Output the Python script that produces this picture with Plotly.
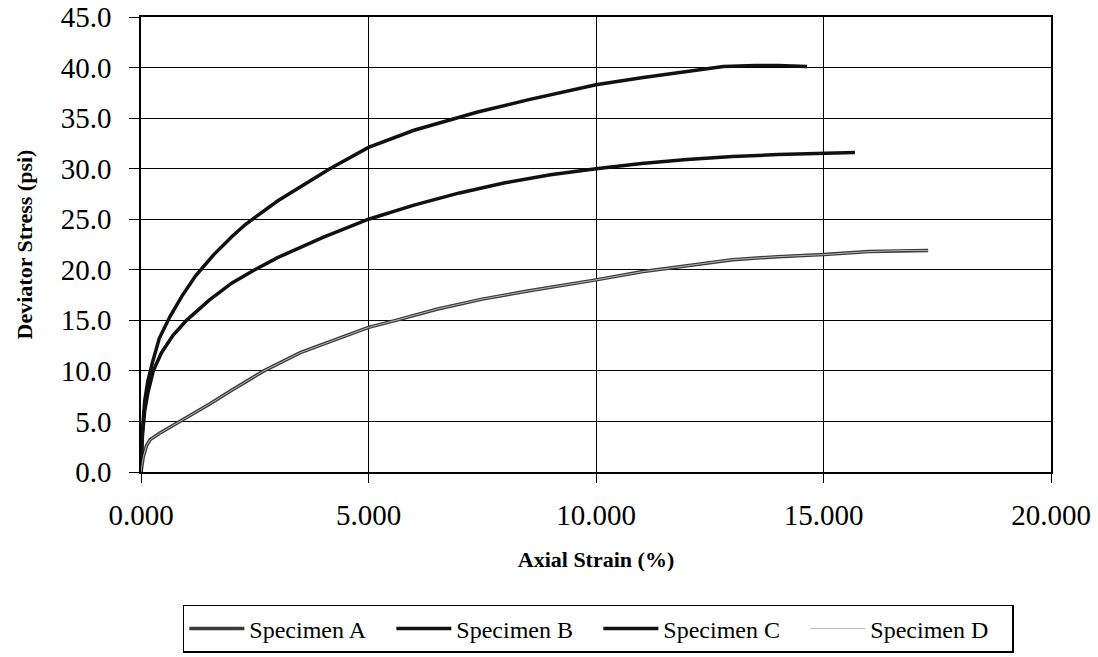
import plotly.graph_objects as go

# Axial strain (%) and deviator stress (psi) for each specimen
strain_a = [0, 0.05, 0.12, 0.2, 0.4, 0.86, 1.5, 2.0, 2.7, 3.5, 4.2, 5.0, 5.6, 6.5, 7.5, 8.5,
            10.0, 11.0, 12.0, 13.0, 14.0, 15.0, 16.0, 16.7, 17.3]
stress_a = [0, 1.5, 2.6, 3.2, 3.8, 5.0, 6.7, 8.1, 10.0, 11.8, 13.0, 14.3, 15.0, 16.1, 17.1, 17.9,
            19.0, 19.8, 20.4, 21.0, 21.3, 21.5, 21.8, 21.9, 21.9]

strain_b = [0, 0.03, 0.08, 0.15, 0.25, 0.4, 0.64, 0.9, 1.2, 1.6, 2.0, 2.3, 3.0, 3.5, 4.15, 5.0,
            6.0, 7.4, 8.5, 10.0, 11.0, 12.0, 12.8, 13.5, 14.0, 14.64]
stress_b = [0, 4.0, 7.0, 9.0, 10.8, 13.2, 15.4, 17.4, 19.4, 21.5, 23.3, 24.5, 26.8, 28.2, 30.0, 32.1,
            33.8, 35.6, 36.8, 38.3, 39.0, 39.6, 40.1, 40.2, 40.2, 40.1]

strain_c = [0, 0.03, 0.08, 0.15, 0.27, 0.45, 0.7, 1.0, 1.5, 2.0, 2.5, 3.0, 4.0, 5.0, 6.0, 7.0,
            8.0, 9.0, 10.0, 11.0, 12.0, 13.0, 14.0, 15.0, 15.69]
stress_c = [0, 3.5, 6.0, 7.8, 10.0, 11.8, 13.5, 15.0, 17.0, 18.7, 20.0, 21.2, 23.2, 25.0, 26.4, 27.6,
            28.6, 29.4, 30.0, 30.5, 30.9, 31.2, 31.4, 31.5, 31.6]

strain_d = [0, 0.05, 0.12, 0.2, 0.4, 0.86, 1.5, 2.0, 2.7, 3.5, 4.2, 5.0, 5.6, 6.5, 7.5, 8.5,
            10.0, 11.0, 12.0, 13.0, 14.0, 15.0, 16.0, 16.7, 17.3]
stress_d = [0, 1.5, 2.6, 3.2, 3.8, 5.0, 6.7, 8.1, 10.0, 11.8, 13.0, 14.3, 15.0, 16.1, 17.1, 17.9,
            19.0, 19.8, 20.4, 21.0, 21.3, 21.5, 21.8, 21.9, 21.9]

x_ticks = [0, 5, 10, 15, 20]
y_ticks = [0, 5, 10, 15, 20, 25, 30, 35, 40, 45]

serif = "Liberation Serif, Times New Roman, serif"

fig = go.Figure()
fig.add_trace(go.Scatter(x=strain_a, y=stress_a, mode="lines", name="Specimen A",
                         line=dict(color="#3a3a3a", width=3.5)))
fig.add_trace(go.Scatter(x=strain_b, y=stress_b, mode="lines", name="Specimen B",
                         line=dict(color="#111111", width=3.5)))
fig.add_trace(go.Scatter(x=strain_c, y=stress_c, mode="lines", name="Specimen C",
                         line=dict(color="#111111", width=3.5)))
fig.add_trace(go.Scatter(x=strain_d, y=stress_d, mode="lines", name="Specimen D",
                         line=dict(color="#b8b8b8", width=1)))

fig.update_layout(
    width=1098, height=657,
    margin=dict(l=141, r=47, t=17, b=185, autoexpand=False),
    paper_bgcolor="white", plot_bgcolor="white",
    font=dict(family=serif, color="black"),
    showlegend=True,
    legend=dict(orientation="h", x=0.046, xanchor="left", y=-0.292, yanchor="top",
                bordercolor="black", borderwidth=1.5, bgcolor="white",
                font=dict(family=serif, size=24, color="black"),
                itemwidth=55, tracegroupgap=0, entrywidth=137),
    xaxis=dict(range=[0, 20], tickvals=x_ticks, tickformat=".3f", automargin=False,
               showgrid=True, gridcolor="black", gridwidth=1,
               showline=True, linecolor="black", linewidth=1.5, mirror=True,
               ticks="outside", ticklen=9, tickcolor="black", ticklabelstandoff=7,
               tickfont=dict(family=serif, size=29), zeroline=False,
               title=dict(text="<b>Axial Strain (%)</b>", font=dict(family=serif, size=22),
                          standoff=22)),
    yaxis=dict(range=[0, 45], tickvals=y_ticks, tickformat=".1f", automargin=False,
               showgrid=True, gridcolor="black", gridwidth=1,
               showline=True, linecolor="black", linewidth=1.5, mirror=True,
               ticks="outside", ticklen=10, tickcolor="black", ticklabelstandoff=12,
               tickfont=dict(family=serif, size=29), zeroline=False,
               title=dict(text="<b>Deviator Stress (psi)</b>", font=dict(family=serif, size=22),
                          standoff=22)),
)

fig.write_html("out.html")
